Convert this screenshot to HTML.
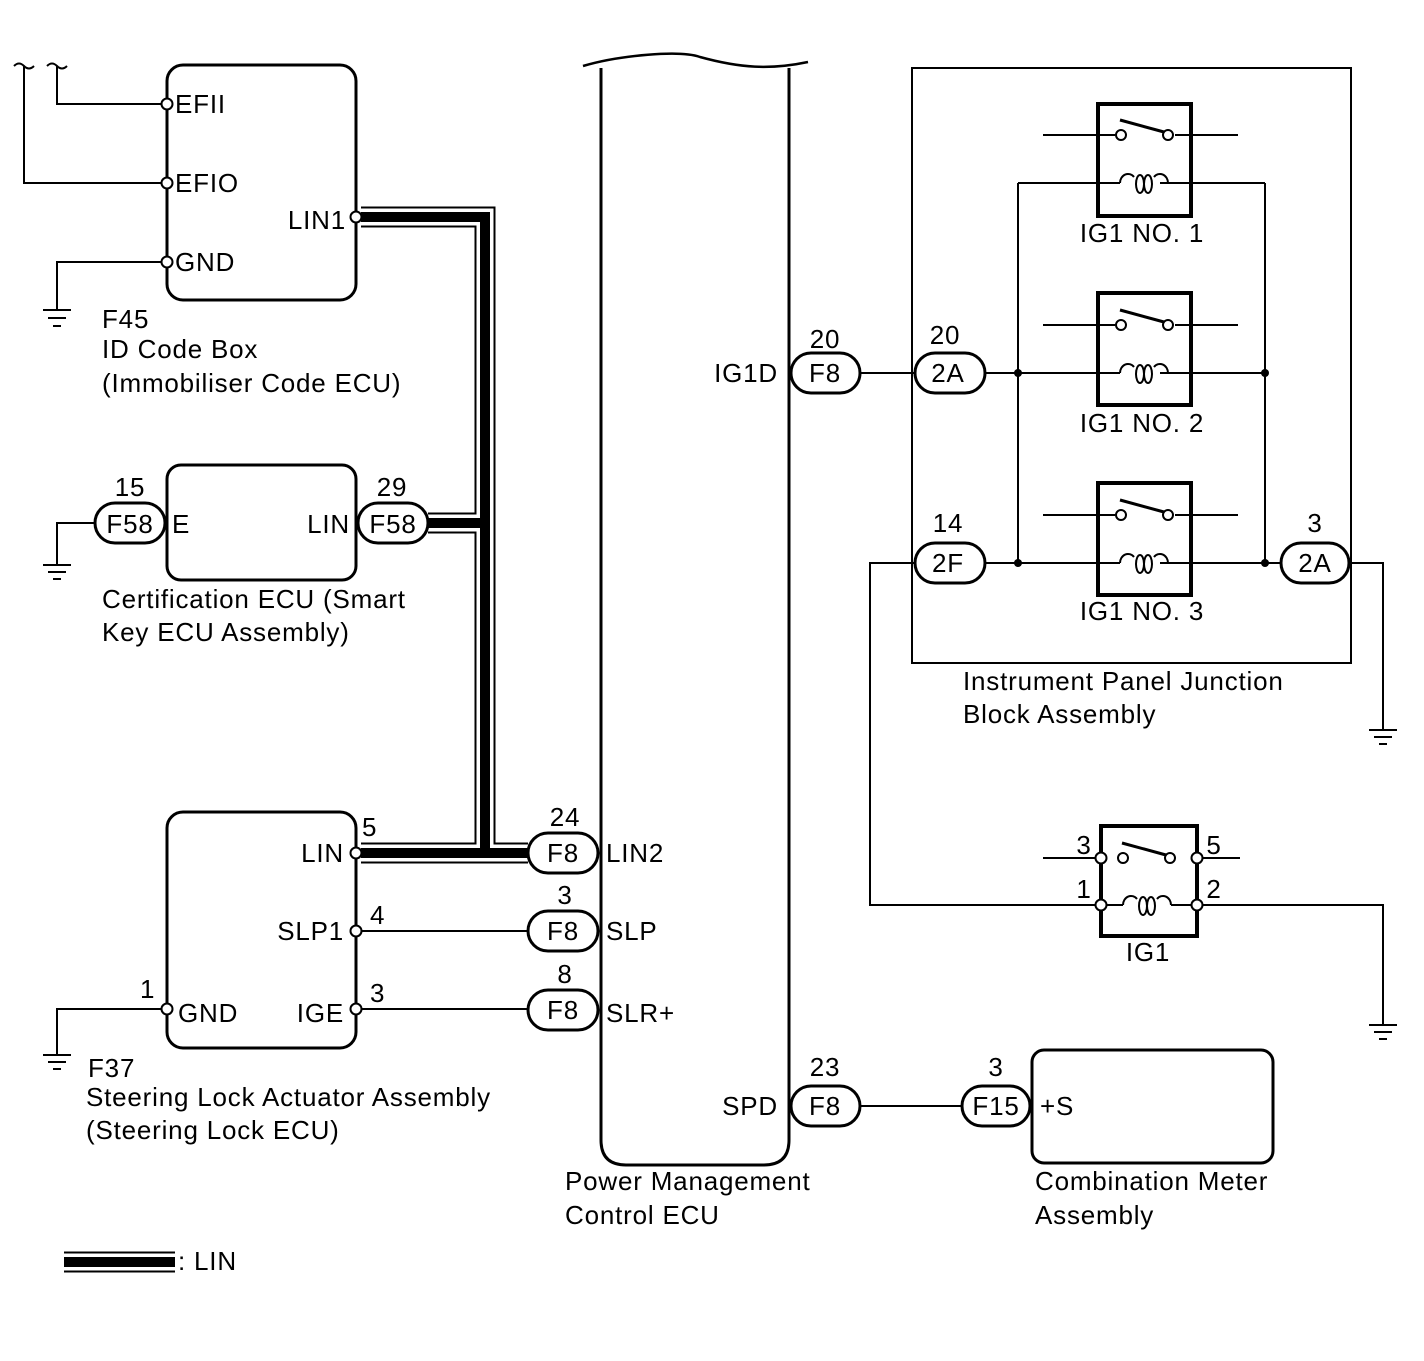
<!DOCTYPE html>
<html><head><meta charset="utf-8"><style>
html,body{margin:0;padding:0;background:#fff}
svg{display:block}
text{font-family:"Liberation Sans",sans-serif;font-size:26px;letter-spacing:0.8px;fill:#000}
</style></head><body>
<svg width="1424" height="1361" viewBox="0 0 1424 1361" xmlns="http://www.w3.org/2000/svg">
<defs>
<g id="coil" fill="none" stroke="#000" stroke-width="2">
<path d="M-24,0 A8,9 0 0 1 -10,-6 M10,-6 A8,9 0 0 1 24,0"/>
<ellipse cx="-4" cy="1" rx="4" ry="9"/>
<ellipse cx="4" cy="1" rx="4" ry="9"/>
</g>
</defs>
<g fill="none" stroke="#000" stroke-width="2">
<path d="M14,66 q5,-5 10,0 q5,5 10,0 M47,66 q5,-5 10,0 q5,5 10,0"/>
<path d="M57,66 V104 H162 M24,66 V183 H162 M162,262 H57 V310"/>
<path d="M43,310 H71 M48,318 H66 M53,326 H61"/>
<path d="M95,523 H57 V565 M43,565 H71 M48,572 H66 M53,579 H61"/>
<path d="M162,1009 H57 V1055 M43,1055 H71 M48,1062 H66 M53,1069 H61"/>
<path d="M361,931 H528 M361,1009 H528"/>
<path d="M860,373 H915 M985,373 H1120 M1160,373 H1265"/>
<path d="M1018,183 V563 M1265,183 V563 M1018,183 H1120 M1160,183 H1265"/>
<path d="M985,563 H1120 M1160,563 H1282"/>
<path d="M1349,563 H1383 V730 M1369,730 H1397 M1374,737 H1392 M1379,744 H1387"/>
<path d="M915,563 H870 V905 H1096 M1202,905 H1383 V1025 M1369,1025 H1397 M1374,1032 H1392 M1379,1039 H1387"/>
<path d="M1106,905 H1123 M1171,905 H1192"/>
<path d="M860,1106 H962"/>
<path d="M1043,135 H1115 M1175,135 H1238 M1043,325 H1115 M1175,325 H1238 M1043,515 H1115 M1175,515 H1238"/>
<path d="M1043,858 H1096 M1202,858 H1240"/>
</g>
<g fill="none" stroke-linejoin="miter">
<path d="M361,217 H485 V853 H528 M428,523 H485 M361,853 H485" stroke="#000" stroke-width="21"/>
<path d="M361,217 H485 V853 H528 M428,523 H485 M361,853 H485" stroke="#fff" stroke-width="17"/>
<path d="M361,217 H485 V853 H528 M428,523 H485 M361,853 H485" stroke="#000" stroke-width="10"/>
<path d="M64,1262 H175" stroke="#000" stroke-width="21"/>
<path d="M64,1262 H175" stroke="#fff" stroke-width="17"/>
<path d="M64,1262 H175" stroke="#000" stroke-width="10"/>
</g>
<g fill="#fff" stroke="#000" stroke-width="3">
<rect x="167" y="65" width="189" height="235" rx="16"/>
<rect x="167" y="465" width="189" height="115" rx="14"/>
<rect x="167" y="812" width="189" height="236" rx="16"/>
<path d="M601,68 V1140 Q601,1165 626,1165 H764 Q789,1165 789,1140 V68" fill="none"/>
<rect x="912" y="68" width="439" height="595" stroke-width="2" fill="none"/>
<rect x="1032" y="1050" width="241" height="113" rx="12"/>
<g fill="none" stroke-width="4">
<rect x="1098" y="104" width="93" height="112"/>
<rect x="1098" y="293" width="93" height="112"/>
<rect x="1098" y="483" width="93" height="112"/>
<rect x="1101" y="826" width="96" height="110"/>
</g>
<rect x="95" y="503" width="70" height="40" rx="20"/>
<rect x="358" y="503" width="70" height="40" rx="20"/>
<rect x="528" y="833" width="70" height="40" rx="20"/>
<rect x="528" y="911" width="70" height="40" rx="20"/>
<rect x="528" y="990" width="70" height="40" rx="20"/>
<rect x="791" y="353" width="69" height="40" rx="20"/>
<rect x="791" y="1086" width="69" height="40" rx="20"/>
<rect x="915" y="353" width="70" height="40" rx="20"/>
<rect x="915" y="543" width="70" height="40" rx="20"/>
<rect x="1281" y="543" width="68" height="40" rx="20"/>
<rect x="962" y="1086" width="68" height="40" rx="20"/>
</g>
<path d="M583,66 C620,55 680,50 700,57 C740,68 770,70 808,62" fill="none" stroke="#000" stroke-width="2.5"/>
<g fill="none" stroke="#000" stroke-width="2">
<g id="r1">
<circle cx="1121" cy="135" r="5" fill="#fff"/><circle cx="1168" cy="135" r="5" fill="#fff"/>
<path d="M1120,120 L1164,132" stroke-width="3"/>
</g>
<use href="#r1" y="190"/>
<use href="#r1" y="380"/>
<use href="#coil" x="1144" y="183"/>
<use href="#coil" x="1144" y="373"/>
<use href="#coil" x="1144" y="563"/>
<use href="#coil" x="1147" y="905"/>
<circle cx="1123" cy="858" r="5" fill="#fff"/><circle cx="1170" cy="858" r="5" fill="#fff"/>
<path d="M1122,843 L1166,855" stroke-width="3"/>
</g>
<g fill="#fff" stroke="#000" stroke-width="2">
<circle cx="167" cy="104" r="5.5"/><circle cx="167" cy="183" r="5.5"/><circle cx="167" cy="262" r="5.5"/>
<circle cx="356" cy="217" r="5.5"/>
<circle cx="356" cy="853" r="5.5"/><circle cx="356" cy="931" r="5.5"/><circle cx="356" cy="1009" r="5.5"/><circle cx="167" cy="1009" r="5.5"/>
<circle cx="1101" cy="858" r="5.5"/><circle cx="1197" cy="858" r="5.5"/><circle cx="1101" cy="905" r="5.5"/><circle cx="1197" cy="905" r="5.5"/>
</g>
<g fill="#000">
<circle cx="1018" cy="373" r="4"/><circle cx="1018" cy="563" r="4"/><circle cx="1265" cy="373" r="4"/><circle cx="1265" cy="563" r="4"/>
</g>
<g>
<text x="175" y="113">EFII</text><text x="175" y="192">EFIO</text><text x="175" y="271">GND</text>
<text x="346" y="229" text-anchor="end">LIN1</text>
<text x="102" y="328">F45</text><text x="102" y="358">ID Code Box</text><text x="102" y="392">(Immobiliser Code ECU)</text>
<text x="130" y="496" text-anchor="middle">15</text><text x="130" y="533" text-anchor="middle">F58</text>
<text x="392" y="496" text-anchor="middle">29</text><text x="393" y="533" text-anchor="middle">F58</text>
<text x="172" y="533">E</text><text x="350" y="533" text-anchor="end">LIN</text>
<text x="102" y="608">Certification ECU (Smart</text><text x="102" y="641">Key ECU Assembly)</text>
<text x="344" y="862" text-anchor="end">LIN</text><text x="344" y="940" text-anchor="end">SLP1</text><text x="344" y="1022" text-anchor="end">IGE</text>
<text x="178" y="1022">GND</text>
<text x="362" y="836">5</text><text x="370" y="924">4</text><text x="370" y="1002">3</text><text x="140" y="998">1</text>
<text x="88" y="1077">F37</text><text x="86" y="1106">Steering Lock Actuator Assembly</text><text x="86" y="1139">(Steering Lock ECU)</text>
<text x="565" y="826" text-anchor="middle">24</text><text x="563" y="862" text-anchor="middle">F8</text>
<text x="565" y="904" text-anchor="middle">3</text><text x="563" y="940" text-anchor="middle">F8</text>
<text x="565" y="983" text-anchor="middle">8</text><text x="563" y="1019" text-anchor="middle">F8</text>
<text x="606" y="862">LIN2</text><text x="606" y="940">SLP</text><text x="606" y="1022">SLR+</text>
<text x="778" y="382" text-anchor="end">IG1D</text><text x="825" y="348" text-anchor="middle">20</text><text x="825" y="382" text-anchor="middle">F8</text>
<text x="778" y="1115" text-anchor="end">SPD</text><text x="825" y="1076" text-anchor="middle">23</text><text x="825" y="1115" text-anchor="middle">F8</text>
<text x="945" y="344" text-anchor="middle">20</text><text x="948" y="382" text-anchor="middle">2A</text>
<text x="948" y="532" text-anchor="middle">14</text><text x="948" y="572" text-anchor="middle">2F</text>
<text x="1315" y="532" text-anchor="middle">3</text><text x="1315" y="572" text-anchor="middle">2A</text>
<text x="1142" y="242" text-anchor="middle">IG1 NO. 1</text><text x="1142" y="432" text-anchor="middle">IG1 NO. 2</text><text x="1142" y="620" text-anchor="middle">IG1 NO. 3</text>
<text x="963" y="690">Instrument Panel Junction</text><text x="963" y="723">Block Assembly</text>
<text x="1084" y="854" text-anchor="middle">3</text><text x="1214" y="854" text-anchor="middle">5</text>
<text x="1084" y="898" text-anchor="middle">1</text><text x="1214" y="898" text-anchor="middle">2</text>
<text x="1148" y="961" text-anchor="middle">IG1</text>
<text x="996" y="1076" text-anchor="middle">3</text><text x="996" y="1115" text-anchor="middle">F15</text>
<text x="1040" y="1115">+S</text>
<text x="1035" y="1190">Combination Meter</text><text x="1035" y="1224">Assembly</text>
<text x="565" y="1190">Power Management</text><text x="565" y="1224">Control ECU</text>
<text x="178" y="1270">: LIN</text>
</g>
</svg>
</body></html>
